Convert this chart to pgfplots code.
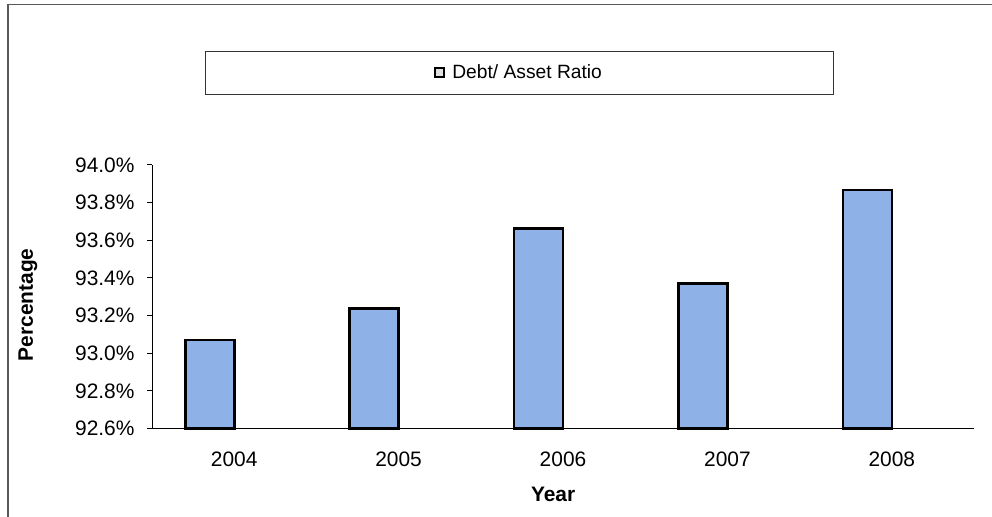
\documentclass[border=0pt]{standalone}
\usepackage{fontspec}
\setmainfont{Liberation Sans}
\usepackage{pgfplots}
\pgfplotsset{compat=1.18}

\definecolor{barblue}{RGB}{142,178,232}

\begin{document}
\begin{tikzpicture}[x=1bp,y=1bp]
  % page frame (top and left edges only)
  \path[use as bounding box] (0,0) rectangle (992,517);
  \draw[line width=1.2bp, black!65] (8,0) -- (8,512.5) -- (992,512.5);

  \begin{axis}[
    at={(152bp,88.5bp)}, anchor=south west,
    scale only axis,
    width=822bp, height=263.5bp,
    ymin=92.6, ymax=94.0,
    xmin=-0.5, xmax=4.5,
    axis x line*=bottom, axis y line*=left,
    axis line style={line width=1bp, -},
    tick align=outside,
    major tick length=5bp,
    minor tick length=5bp,
    tick style={line width=1bp, black},
    ytick={92.6,92.8,93.0,93.2,93.4,93.6,93.8,94.0},
    yticklabels={92.6\%,92.8\%,93.0\%,93.2\%,93.4\%,93.6\%,93.8\%,94.0\%},
    xtick={0,1,2,3,4},
    xticklabels={2004,2005,2006,2007,2008},
    xtick style={draw=none},
    minor xtick={-0.5,0.5,1.5,2.5,3.5,4.5},
    /pgf/number format/assume math mode=true,
    ticklabel style={font=\fontsize{21}{24}\selectfont},
    yticklabel style={xshift=-9bp},
    xticklabel style={yshift=-15bp},
    xlabel={Year},
    ylabel={Percentage},
    label style={font=\fontsize{21}{24}\selectfont\bfseries},
    xlabel style={at={(axis description cs:0.488,-0.252)}, anchor=center},
    ylabel style={at={(axis description cs:-0.151,0.469)}, anchor=center},
    legend style={at={(0.4465,1.35)}, anchor=center, draw=black!80, line width=0.8bp,
      font=\fontsize{19.3}{22}\selectfont, inner xsep=229bp, inner ysep=11.5bp},
    legend image code/.code={
      \draw[line width=1.8bp, fill=black!12] (0bp,-4.5bp) rectangle (9bp,4.5bp);
      \path (14bp,0bp);
    },
    clip=false,
  ]
    \addplot[ybar, bar width=49bp, bar shift=-24.5bp, fill=barblue, draw=black, line width=2.6bp]
      coordinates {(0,93.07) (1,93.237) (2,93.664) (3,93.371) (4,93.867)};
    \addlegendentry{Debt/ Asset Ratio}
  \end{axis}
\end{tikzpicture}
\end{document}
